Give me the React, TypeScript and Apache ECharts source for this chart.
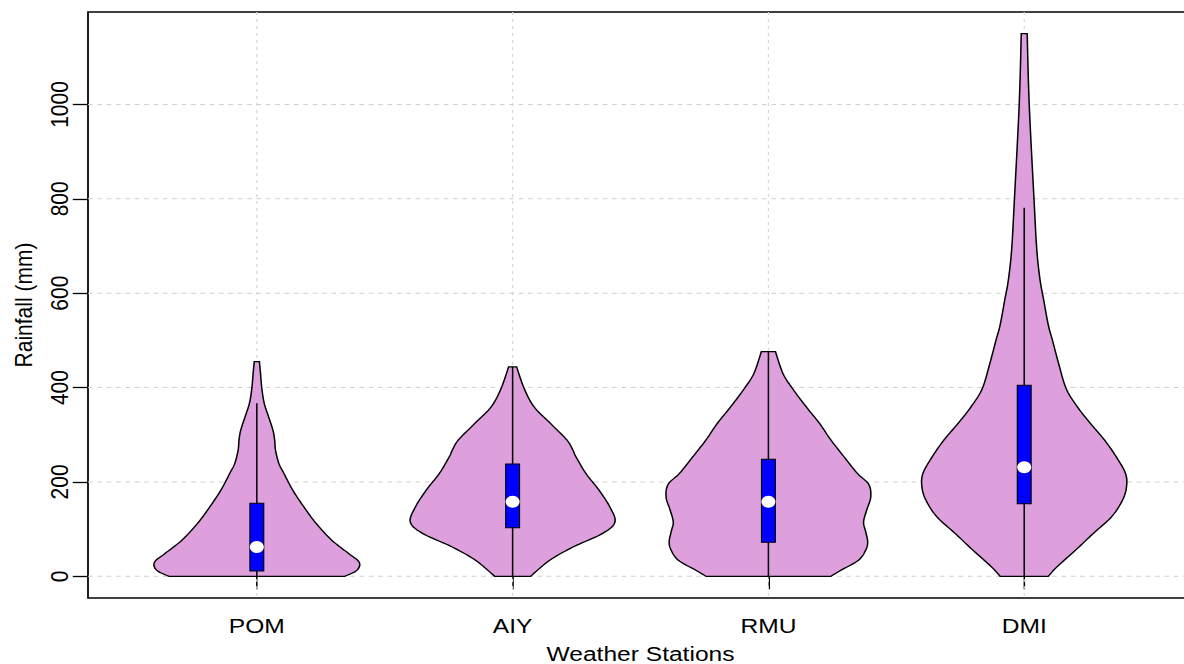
import React, { useEffect, useRef } from 'react';
import * as echarts from 'echarts';

// Stations on the x axis and rainfall ticks on the y axis
const stations = ['POM', 'AIY', 'RMU', 'DMI'];
const stationPos = [1, 2, 3, 4];
const yTicks = [0, 200, 400, 600, 800, 1000];

// Violin outlines: rainfall level (mm) and relative kernel density (peak = 1)
const pomLevels = [0, 13, 30, 48, 76, 112, 147, 183, 218, 239, 267, 289, 310, 338, 367, 398, 430, 455];
const pomDensity = [0.86, 0.98, 1.0, 0.9, 0.735, 0.58, 0.46, 0.35, 0.265, 0.216, 0.183, 0.174, 0.157, 0.115, 0.072, 0.049, 0.036, 0.025];

const aiyLevels = [0, 34, 62, 91, 115, 147, 183, 218, 253, 267, 289, 324, 359, 398, 444];
const aiyDensity = [0.176, 0.363, 0.59, 0.88, 1.0, 0.95, 0.843, 0.716, 0.62, 0.59, 0.53, 0.37, 0.21, 0.113, 0.039];

const rmuLevels = [0, 13, 34, 55, 73, 95, 115, 140, 168, 195, 218, 253, 289, 324, 359, 398, 430, 476];
const rmuDensity = [0.61, 0.71, 0.88, 0.95, 0.97, 0.95, 0.93, 0.96, 1.0, 0.98, 0.87, 0.74, 0.61, 0.5, 0.37, 0.235, 0.142, 0.069];

const dmiLevels = [0, 20, 55, 91, 126, 161, 190, 218, 253, 289, 324, 359, 398, 452, 501, 533, 586, 628, 692, 798, 1000, 1150];
const dmiDensity = [0.235, 0.32, 0.5, 0.676, 0.853, 0.96, 1.0, 0.99, 0.9, 0.784, 0.647, 0.52, 0.41, 0.335, 0.275, 0.235, 0.19, 0.155, 0.123, 0.096, 0.049, 0.029];

// Box-plot summaries per station (mm)
const q1 = [11, 103, 72, 154];
const q3 = [155, 238, 248, 405];
const medians = [62, 158, 158, 231];
const whiskerLow = [0, 0, 0, 0];
const whiskerHigh = [367, 444, 476, 781];

const profiles: [number[], number[]][] = [
  [pomLevels, pomDensity],
  [aiyLevels, aiyDensity],
  [rmuLevels, rmuDensity],
  [dmiLevels, dmiDensity],
];

const VIOLIN_HALF = 0.4; // half width of a violin at peak density, in x units
const BOX_HALF = 0.027;
const FONT = "'Liberation Sans', Arial, Helvetica, sans-serif";
const STRETCH = 1.17;
const WIDTH = 1184;
const HEIGHT = 664;

// Catmull-Rom smoothing of an outline through its (level, density) knots
function smoothOutline(levels: number[], dens: number[]): [number, number][] {
  const n = levels.length;
  const steps = 10;
  const pt = (k: number) => {
    const j = Math.max(0, Math.min(n - 1, k));
    return [levels[j], dens[j]];
  };
  const out: [number, number][] = [];
  for (let k = 0; k < n - 1; k++) {
    const p0 = pt(k - 1), p1 = pt(k), p2 = pt(k + 1), p3 = pt(k + 2);
    for (let s = 0; s < steps; s++) {
      const t = s / steps, t2 = t * t, t3 = t2 * t;
      const c = (a: number, b: number, cc: number, d: number) =>
        0.5 * (2 * b + (-a + cc) * t + (2 * a - 5 * b + 4 * cc - d) * t2 + (-a + 3 * b - 3 * cc + d) * t3);
      let v = c(p0[0], p1[0], p2[0], p3[0]);
      let w = c(p0[1], p1[1], p2[1], p3[1]);
      v = Math.max(levels[0], Math.min(levels[n - 1], v));
      w = Math.max(0, w);
      out.push([v, w]);
    }
  }
  out.push([levels[n - 1], dens[n - 1]]);
  return out;
}

export default function App() {
  const ref = useRef<HTMLDivElement>(null);

  useEffect(() => {
    if (!ref.current) return;
    const chart = echarts.init(ref.current, undefined, { renderer: 'svg' });

    const axisText = { fontSize: 21, color: '#000', fontFamily: FONT };
    const tickLine = { color: '#000', width: 1.3 };

    chart.setOption({
      animation: false,
      backgroundColor: '#fff',
      textStyle: { fontFamily: FONT },
      grid: {
        left: 88 / STRETCH,
        right: (WIDTH - 1193) / STRETCH,
        top: 12,
        bottom: 66,
        show: true,
        borderColor: '#000',
        borderWidth: 1.5,
        containLabel: false,
        outerBoundsMode: 'none',
      },
      xAxis: {
        type: 'value',
        min: 0.34,
        max: 4.66,
        splitLine: { show: false },
        axisLine: { show: false },
        axisTick: { show: true, customValues: stationPos, length: 13, lineStyle: tickLine },
        axisLabel: {
          customValues: stationPos,
          formatter: (v: number) => stations[Math.round(v) - 1] ?? '',
          margin: 17,
          ...axisText,
        },
        name: 'Weather Stations',
        nameLocation: 'middle',
        nameGap: 45,
        nameTextStyle: axisText,
      },
      yAxis: {
        type: 'value',
        min: -46,
        max: 1196,
        splitLine: { show: false },
        axisLine: { show: false },
        axisTick: { show: true, customValues: yTicks, length: 13, lineStyle: tickLine },
        axisLabel: {
          customValues: yTicks,
          formatter: (v: number) => String(v),
          rotate: 90,
          margin: 14,
          ...axisText,
        },
        name: 'Rainfall (mm)',
        nameLocation: 'middle',
        nameRotate: 90,
        nameGap: 45,
        nameTextStyle: axisText,
      },
      series: [
        {
          // horizontal dotted reference lines
          type: 'custom',
          silent: true,
          z: 1,
          data: yTicks.map((v) => [1, v]),
          renderItem: (params: any, api: any) => {
            const cs = params.coordSys;
            const y = api.coord([1, api.value(1)])[1];
            return {
              type: 'line',
              shape: { x1: cs.x, y1: y, x2: cs.x + cs.width, y2: y },
              style: { stroke: '#cfcfcf', lineWidth: 1, lineDash: [4, 4] },
            };
          },
        },
        {
          // vertical dotted reference lines at each station
          type: 'custom',
          silent: true,
          z: 1,
          data: stationPos.map((p) => [p, 0]),
          renderItem: (params: any, api: any) => {
            const cs = params.coordSys;
            const x = api.coord([api.value(0), 0])[0];
            return {
              type: 'line',
              shape: { x1: x, y1: cs.y, x2: x, y2: cs.y + cs.height },
              style: { stroke: '#d6d6d6', lineWidth: 1, lineDash: [3, 4] },
            };
          },
        },
        {
          // violins with embedded box plots
          type: 'custom',
          name: 'Rainfall',
          z: 2,
          data: stationPos.map((p, i) => [p, medians[i]]),
          renderItem: (params: any, api: any) => {
            const i = params.dataIndex;
            const x = stationPos[i];
            const [levels, dens] = profiles[i];
            const pts = smoothOutline(levels, dens);
            const left = pts.map(([v, d]) => api.coord([x - VIOLIN_HALF * d, v]));
            const right = pts
              .slice()
              .reverse()
              .map(([v, d]) => api.coord([x + VIOLIN_HALF * d, v]));
            const [bx0, yTop] = api.coord([x - BOX_HALF, q3[i]]);
            const [bx1, yBot] = api.coord([x + BOX_HALF, q1[i]]);
            const [cx, wTop] = api.coord([x, whiskerHigh[i]]);
            const wBot = api.coord([x, whiskerLow[i]])[1];
            const my = api.coord([x, medians[i]])[1];
            return {
              type: 'group',
              children: [
                {
                  type: 'polygon',
                  shape: { points: left.concat(right) },
                  style: { fill: '#DDA0DD', stroke: '#000', lineWidth: 1.3 },
                },
                {
                  type: 'line',
                  shape: { x1: cx, y1: wTop, x2: cx, y2: wBot },
                  style: { stroke: '#000', lineWidth: 1.3 },
                },
                {
                  type: 'rect',
                  shape: { x: bx0, y: yTop, width: bx1 - bx0, height: yBot - yTop },
                  style: { fill: '#0000FF', stroke: '#000', lineWidth: 1 },
                },
                {
                  type: 'circle',
                  shape: { cx, cy: my, r: 6 },
                  style: { fill: '#ffffff' },
                },
              ],
            };
          },
        },
      ],
    });

    return () => chart.dispose();
  }, []);

  return (
    <div style={{ position: 'absolute', left: 0, top: 0, width: WIDTH, height: HEIGHT, overflow: 'hidden', background: '#fff' }}>
      <div
        ref={ref}
        style={{
          width: WIDTH / STRETCH,
          height: HEIGHT,
          transform: `scaleX(${STRETCH})`,
          transformOrigin: '0 0',
        }}
      />
    </div>
  );
}
